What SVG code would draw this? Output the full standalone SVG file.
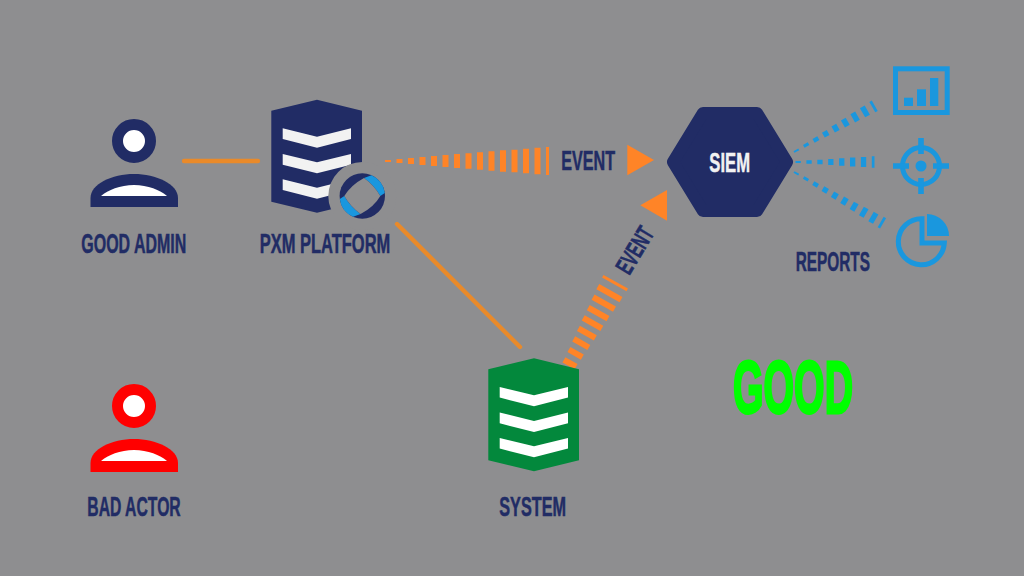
<svg xmlns="http://www.w3.org/2000/svg" xmlns:xlink="http://www.w3.org/1999/xlink" width="1024" height="576" viewBox="0 0 1024 576">
<style>
.lbl{font-family:"Liberation Sans Narrow","Liberation Sans",Arial,sans-serif;font-weight:700;font-size:27px;fill:#212c65;stroke:#212c65;stroke-width:.5px}
.line{fill:none;stroke:#e98a2a;stroke-width:4.400;stroke-linecap:round}
.or{fill:#ff8427}
.bl{fill:#1a97de}
.blr{fill:none;stroke:#1a97de;stroke-width:5}
</style>
<defs>
<path id="shield" d="M271.3 110.7L317 99.7L362 110.7V201.7L317 212.7L271.3 201.7Z"/>
<path id="chev" d="M282.7 128.3L317 136.7L351 128.3V139L317 147.7L282.7 139ZM282.7 154L317 162.3L351 154V164.7L317 173.3L282.7 164.7ZM282.7 179.3L317 187.7L351 179.3V190L317 198.7L282.7 190Z"/>
<path id="body" d="M90.5 207V198C90.5 184 112 174 134 174C156 174 178 184 178 198V207Z"/>
<path id="belly" d="M101 196C108 190 120 185 134 185C148 185 160 190 167 196Z"/>
<path id="wedge-blue-9" d="M0-1h5.3v2h-5.3zM10.9-1.6h5.3v3.2h-5.3zM21.8-2.2h5.3v4.4h-5.3zM32.7-2.8h5.3v5.6h-5.3zM43.6-3.5h5.3v7h-5.3zM54.5-4.1h5.3v8.2h-5.3zM65.4-4.7h5.3v9.4h-5.3zM76.3-5.3h5.3v10.6h-5.3zM87.2-6h2.7v12h-2.7z"/>
</defs>
<rect width="1024" height="576" fill="#8e8e90"/>

<g id="connectors">
<path class="line" d="M184 161H258"/>
<path class="line" d="M397 224L520 347"/>
<path class="or" d="M385 160h6v2h-6zM396.500 159h6v4h-6zM408 158h6v6h-6zM419.500 157h6v8h-6zM431 156h6v10h-6zM442.500 155h6v12h-6zM454 154h6v14h-6zM465.500 153.300h6v15.400h-6zM477 152.300h6v17.400h-6zM488.500 151.300h6v19.400h-6zM500 150.300h6v21.400h-6zM511.500 149.700h6v22.600h-6zM523 148.700h6v24.600h-6zM534.500 147.700h6v26.600h-6zM546 147h3v28h-3z"/>
<path class="or" transform="translate(570 363.300) rotate(-60.700)" d="M-3-7h6v14h-6zM8.500-7.700h6v15.400h-6zM20-8.700h6v17.400h-6zM31.500-9.700h6v19.400h-6zM43-10.700h6v21.400h-6zM54.500-11.300h6v22.600h-6zM66-12.300h6v24.600h-6zM77.500-13.300h6v26.600h-6zM90.500-14h3v28h-3z"/>
<path class="or" d="M627.300 144.700L654 160L627.300 175.300Z"/>
<path class="or" d="M667 190L640.300 205.300L667 220.700Z"/>
<path class="bl" transform="translate(795.500 162)" d="M0-1h5.300v2h-5.300zM10.900-1.700h5.300v3.400h-5.300zM21.800-2.300h5.300v4.600h-5.300zM32.700-3h5.300v6h-5.300zM43.600-3.700h5.300v7.400h-5.300zM54.500-4.400h5.300v8.800h-5.300zM65.400-5h5.300v10h-5.300zM76.300-5.700h2.700v11.400h-2.700z"/>
<use xlink:href="#wedge-blue-9" href="#wedge-blue-9" class="bl" transform="translate(794 152) rotate(-29.800) scale(1.035 1)"/>
<path class="bl" transform="translate(794 172) rotate(30) scale(1.02 1)" d="M0-1h5.300v2h-5.300zM10.900-1.500h5.300v3h-5.300zM21.800-2.100h5.300v4.200h-5.300zM32.700-2.700h5.300v5.400h-5.300zM43.600-3.200h5.300v6.400h-5.300zM54.500-3.800h5.300v7.600h-5.300zM65.400-4.300h5.300v8.600h-5.300zM76.300-4.900h5.300v9.800h-5.300zM87.200-5.400h5.300v10.800h-5.300zM98.100-6h2.700v12h-2.700z"/>
</g>

<g id="good-admin">
<circle cx="134" cy="141" r="16.500" fill="#fff" stroke="#212c65" stroke-width="11"/>
<use xlink:href="#body" href="#body" fill="#212c65"/>
<use xlink:href="#belly" href="#belly" fill="#fff"/>
<text class="lbl" x="81.300" y="252.700" textLength="105" lengthAdjust="spacingAndGlyphs">GOOD ADMIN</text>
</g>

<g id="pxm-platform">
<use xlink:href="#shield" href="#shield" fill="#212c65"/>
<use xlink:href="#chev" href="#chev" fill="#f2f2f2"/>
<circle cx="362.300" cy="196" r="34" fill="#8e8e90"/>
<circle cx="362.300" cy="196" r="22.700" fill="#212c65"/>
<path class="bl" d="M364 178L371.500 175.200A22.700 22.700 0 0 1 384.800 193L380.300 196Q374 185 364 178Z"/>
<path class="bl" d="M360.600 214L353.100 216.800A22.700 22.700 0 0 1 339.800 199L344.300 196Q350.600 207 360.600 214Z"/>
<path fill="#8e8e90" d="M364 178Q374 185 380.300 196Q374 207 360.600 214Q350.600 207 344.300 196Q351 185 364 178Z"/>
<text class="lbl" x="259.700" y="252.700" textLength="130.600" lengthAdjust="spacingAndGlyphs">PXM PLATFORM</text>
</g>

<g id="bad-actor" >
<g transform="translate(0 265)">
<circle cx="134" cy="141" r="16.500" fill="#fff" stroke="#f00" stroke-width="11"/>
<use xlink:href="#body" href="#body" fill="#f00"/>
<use xlink:href="#belly" href="#belly" fill="#fff"/>
</g>
<text class="lbl" x="87.300" y="515.500" textLength="93.400" lengthAdjust="spacingAndGlyphs">BAD ACTOR</text>
</g>

<g id="system">
<g transform="translate(217 258.600)">
<use xlink:href="#shield" href="#shield" fill="#03883c"/>
<use xlink:href="#chev" href="#chev" fill="#fff"/>
</g>
<text class="lbl" x="499.300" y="516" textLength="66.700" lengthAdjust="spacingAndGlyphs">SYSTEM</text>
</g>

<g id="siem">
<path d="M673 162L703 113H757L787 162L757 211H703Z" fill="#212c65" stroke="#212c65" stroke-width="12" stroke-linejoin="round"/>
<text class="lbl" x="709.300" y="171.700" textLength="40.700" lengthAdjust="spacingAndGlyphs" style="fill:#f2f2f2;stroke:#f2f2f2">SIEM</text>
</g>

<g id="event-labels">
<text class="lbl" x="561.300" y="170.300" textLength="53.700" lengthAdjust="spacingAndGlyphs">EVENT</text>
<text class="lbl" transform="translate(629.300 276) rotate(-59)" style="font-size:25px" textLength="50" lengthAdjust="spacingAndGlyphs">EVENT</text>
</g>

<g id="report-bars">
<rect class="blr" x="895.500" y="68.800" width="51.700" height="43.700"/>
<rect class="bl" x="904" y="97.700" width="9" height="8.300"/>
<rect class="bl" x="917" y="89.300" width="9" height="16.700"/>
<rect class="bl" x="930" y="78" width="8.300" height="28"/>
</g>
<g id="report-target">
<circle class="blr" cx="921" cy="166" r="18.500"/>
<circle class="bl" cx="921" cy="166" r="5.500"/>
<path class="bl" d="M893 163.200h16v5.600h-16zM933 163.200h16v5.600h-16zM918.200 138h5.600v16h-5.600zM918.200 178h5.600v16h-5.600z"/>
</g>
<g id="report-pie">
<path class="blr" d="M922 218.700A23 23 0 1 0 944.300 243H922Z"/>
<path class="bl" d="M927 214A22 22 0 0 1 949 236H927Z"/>
</g>
<text class="lbl" x="795.700" y="270.700" textLength="74.300" lengthAdjust="spacingAndGlyphs" id="reports-label">REPORTS</text>
<text id="good-label" x="733" y="412.500" textLength="120" lengthAdjust="spacingAndGlyphs" style="font-family:'Liberation Sans Narrow','Liberation Sans',Arial,sans-serif;font-weight:700;font-size:75px;fill:#0f0;stroke:#0f0;stroke-width:3px">GOOD</text>
</svg>
